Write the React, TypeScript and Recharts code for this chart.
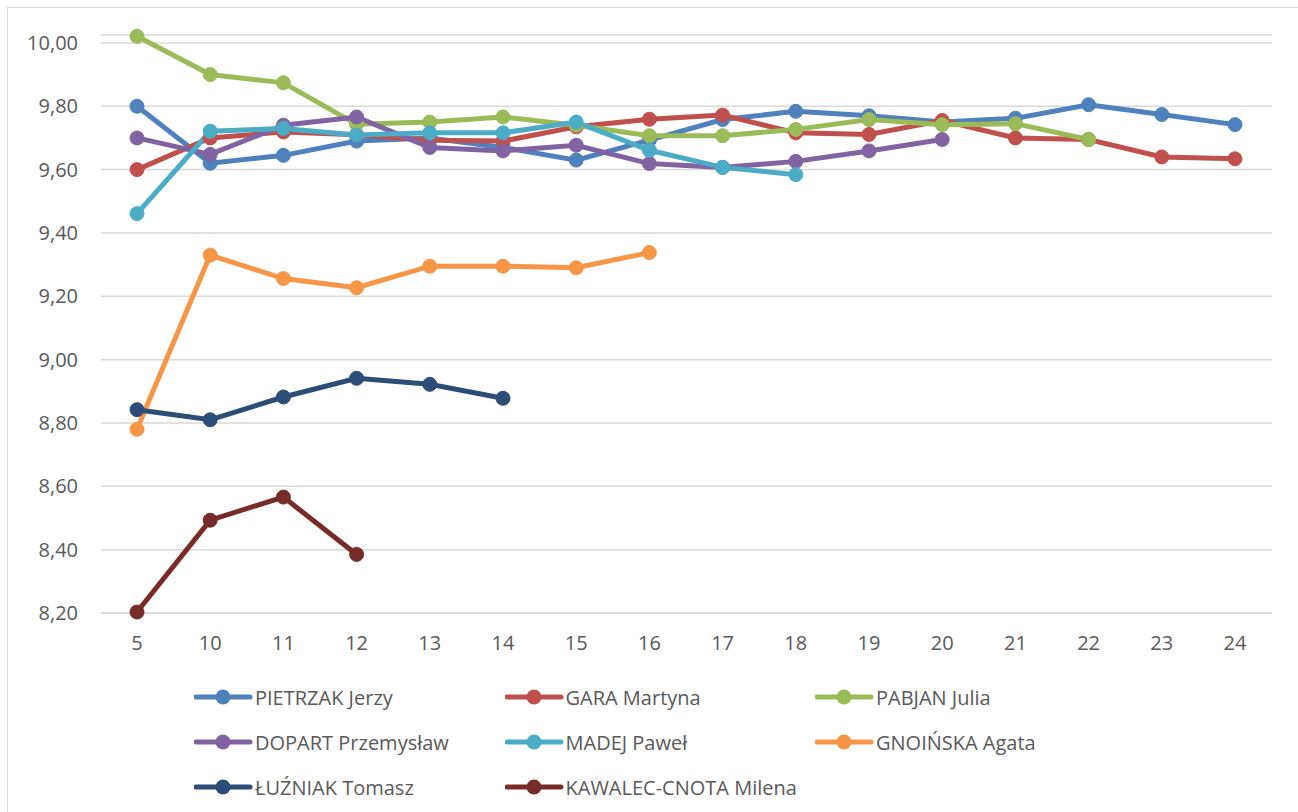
import { LineChart, Line, XAxis, YAxis, CartesianGrid } from "recharts";

const categories = ["5", "10", "11", "12", "13", "14", "15", "16", "17", "18", "19", "20", "21", "22", "23", "24"];

const pietrzak = [9.8, 9.62, 9.645, 9.69, 9.7, 9.67, 9.63, 9.693, 9.758, 9.784, 9.77, 9.75, 9.762, 9.805, 9.774, 9.742];
const gara = [9.6, 9.7, 9.719, 9.71, 9.693, 9.69, 9.735, 9.759, 9.772, 9.716, 9.711, 9.755, 9.7, 9.695, 9.64, 9.634];
const pabjan = [10.021, 9.9, 9.874, 9.743, 9.75, 9.766, 9.74, 9.707, 9.707, 9.727, 9.758, 9.742, 9.745, 9.695];
const dopart = [9.7, 9.648, 9.74, 9.766, 9.67, 9.659, 9.677, 9.619, 9.607, 9.626, 9.659, 9.695];
const madej = [9.461, 9.721, 9.73, 9.709, 9.716, 9.716, 9.75, 9.661, 9.607, 9.584];
const gnoinska = [8.78, 9.33, 9.256, 9.227, 9.295, 9.295, 9.29, 9.338];
const luzniak = [8.842, 8.81, 8.882, 8.941, 8.922, 8.878];
const kawalec = [8.203, 8.493, 8.566, 8.385];

const yTicks = [8.2, 8.4, 8.6, 8.8, 9.0, 9.2, 9.4, 9.6, 9.8, 10.0];

const series = [
    { key: "p", name: "PIETRZAK Jerzy", values: pietrzak, color: "#4f81bd" },
    { key: "g", name: "GARA Martyna", values: gara, color: "#c0504d" },
    { key: "pj", name: "PABJAN Julia", values: pabjan, color: "#9bbb59" },
    { key: "d", name: "DOPART Przemysław", values: dopart, color: "#8064a2" },
    { key: "m", name: "MADEJ Paweł", values: madej, color: "#4bacc6" },
    { key: "gn", name: "GNOIŃSKA Agata", values: gnoinska, color: "#f79646" },
    { key: "l", name: "ŁUŹNIAK Tomasz", values: luzniak, color: "#2c4d75" },
    { key: "k", name: "KAWALEC-CNOTA Milena", values: kawalec, color: "#772c2a" },
];

const data = categories.map((c, i) => {
    const row: any = { x: c };
    series.forEach(s => {
        if (i < s.values.length) row[s.key] = s.values[i];
    });
    return row;
});

const FONT = "'Open Sans', sans-serif";
const TEXT = "#595959";

function LegendBox() {
    return (
        <div style={{ position: "absolute", left: 194, top: 686, width: 1000 }}>
            {series.map((s, i) => (
                <div
                    key={s.key}
                    style={{
                        position: "absolute",
                        left: (i % 3) * 310.5,
                        top: Math.floor(i / 3) * 45,
                        height: 22,
                        display: "flex",
                        alignItems: "center",
                        whiteSpace: "nowrap",
                    }}
                >
                    <svg width={60} height={18}>
                        <line x1={2} y1={9} x2={56} y2={9} stroke={s.color} strokeWidth={5} strokeLinecap="round" />
                        <circle cx={29} cy={9} r={7.5} fill={s.color} />
                    </svg>
                    <span style={{ fontFamily: FONT, fontSize: 20, color: TEXT, marginLeft: 1 }}>{s.name}</span>
                </div>
            ))}
        </div>
    );
}

export default function App() {
    return (
        <div style={{ position: "absolute", left: 0, top: 0, width: 1298, height: 812, background: "#fff", overflow: "hidden" }}>
            <div style={{ position: "absolute", left: 7, top: 7, width: 1400, height: 900, borderLeft: "1px solid #d9d9d9", borderTop: "1px solid #d9d9d9" }} />
            <div style={{ position: "absolute", left: 0, top: 0 }}>
                <LineChart width={1298} height={670} data={data} margin={{ top: 35, right: 26, left: 0, bottom: 17 }}>
                    <CartesianGrid vertical={false} stroke="#d9d9d9" strokeWidth={1.5} />
                    <XAxis
                        dataKey="x"
                        scale="point"
                        padding={{ left: 36, right: 37 }}
                        height={40}
                        axisLine={{ stroke: "#d9d9d9", strokeWidth: 1.5 }}
                        tickLine={false}
                        tickSize={6}
                        tickMargin={17}
                        interval={0}
                        tick={{ fontFamily: FONT, fontSize: 20, fill: TEXT }}
                    />
                    <YAxis
                        type="number"
                        domain={[8.2, 10.025]}
                        ticks={yTicks}
                        width={101}
                        axisLine={false}
                        tickLine={false}
                        tickSize={6}
                        tickMargin={17}
                        tickFormatter={(v: number) => v.toFixed(2).replace(".", ",")}
                        tick={{ fontFamily: FONT, fontSize: 20, fill: TEXT }}
                    />
                    {series.map(s => (
                        <Line
                            key={s.key}
                            dataKey={s.key}
                            name={s.name}
                            stroke={s.color}
                            strokeWidth={5}
                            dot={{ r: 7, fill: s.color, stroke: s.color, strokeWidth: 1 }}
                            activeDot={false}
                            isAnimationActive={false}
                            type="linear"
                        />
                    ))}
                </LineChart>
            </div>
            <LegendBox />
        </div>
    );
}
